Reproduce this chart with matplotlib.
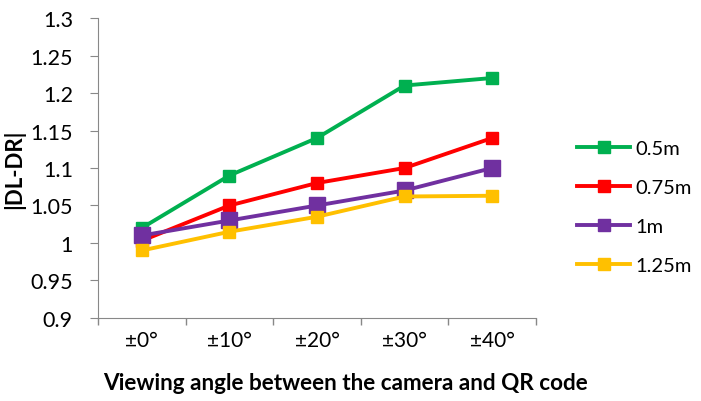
import matplotlib
matplotlib.use("Agg")
import matplotlib.pyplot as plt

plt.rcParams['font.family'] = ['Lato', 'DejaVu Sans']

angles = ["±0°", "±10°", "±20°", "±30°", "±40°"]
y_ticks = [0.9, 0.95, 1, 1.05, 1.1, 1.15, 1.2, 1.25, 1.3]

d_05 = [1.02, 1.09, 1.14, 1.21, 1.22]
d_075 = [1.003, 1.05, 1.08, 1.10, 1.14]
d_1 = [1.01, 1.03, 1.05, 1.07, 1.10]
d_125 = [0.99, 1.015, 1.035, 1.062, 1.063]

series = [
    ("0.5m", d_05, "#00B050", 9),
    ("0.75m", d_075, "#FF0000", 9),
    ("1m", d_1, "#7030A0", 11),
    ("1.25m", d_125, "#FFC000", 9),
]

fig = plt.figure(figsize=(7.01, 4.02), dpi=100)
ax = fig.add_axes([0.1398, 0.2065, 0.6248, 0.7462])

x = range(len(angles))
for label, vals, color, ms in series:
    ax.plot(x, vals, color=color, lw=2.8, marker="s", ms=ms, label=label)

ax.set_xlim(-0.5, len(angles) - 0.5)
ax.set_ylim(0.9, 1.3)
ax.set_yticks(y_ticks)
ax.set_yticklabels([f"{v:g}" for v in y_ticks])
ax.set_xticks(list(x))
ax.set_xticklabels(angles)
ax.set_xticks([i - 0.5 for i in range(len(angles) + 1)], minor=True)
ax.tick_params(axis="x", which="major", length=0, pad=9, labelsize=15)
ax.tick_params(axis="x", which="minor", length=5, color="#888888", width=1)
ax.tick_params(axis="y", length=6, color="#888888", labelsize=15.5, pad=12)

for s in ["top", "right"]:
    ax.spines[s].set_visible(False)
for s in ["left", "bottom"]:
    ax.spines[s].set_color("#888888")

ax.set_ylabel("|DL-DR|", fontsize=16, fontweight="bold", labelpad=4)
ax.set_xlabel("Viewing angle between the camera and QR code", fontsize=16.2,
              fontweight="bold")
ax.xaxis.set_label_coords(0.566, -0.18)

# legend markers drawn at one size, like the reference
handles, labels = ax.get_legend_handles_labels()
leg = ax.legend(handles, labels, loc="center left", bbox_to_anchor=(1.053, 0.37),
                frameon=False, fontsize=14.5, labelspacing=1.1, handlelength=2.6,
                handletextpad=0.3)
for h in leg.legend_handles:
    h.set_markersize(9)

fig.savefig("out.png", dpi=100)
